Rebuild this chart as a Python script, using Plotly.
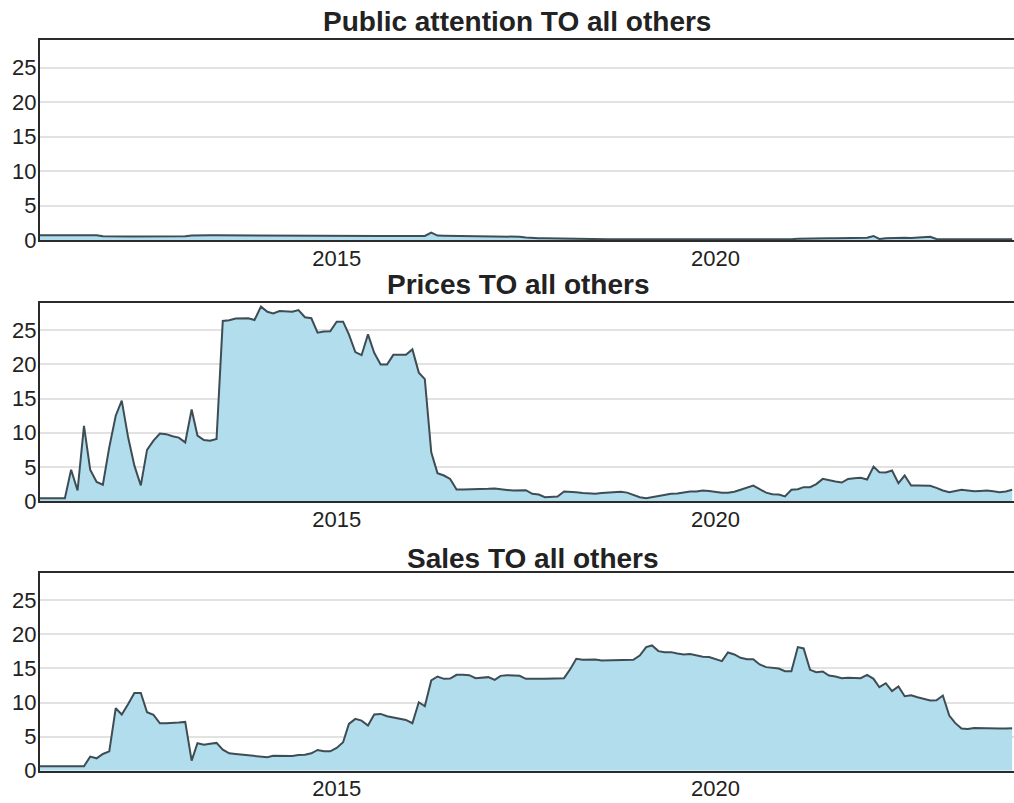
import pandas as pd
import plotly.graph_objects as go
from plotly.subplots import make_subplots

# monthly values, Feb 2011 .. Dec 2023
start_month = "2011-02-01"

public_attention = [
    0.72, 0.72, 0.72, 0.72, 0.72, 0.72, 0.72, 0.72, 0.72, 0.72, 0.58,
    0.55, 0.55, 0.55, 0.55, 0.55, 0.55, 0.55, 0.55, 0.55, 0.55, 0.55, 0.55,
    0.58, 0.68, 0.72, 0.72, 0.72, 0.72, 0.72, 0.72, 0.72, 0.72, 0.72, 0.72,
    0.72, 0.72, 0.70, 0.70, 0.70, 0.70, 0.70, 0.68, 0.68, 0.66, 0.66, 0.66,
    0.64, 0.64, 0.64, 0.64, 0.62, 0.62, 0.62, 0.62, 0.60, 0.60, 0.58, 0.56,
    0.55, 0.52, 0.62, 1.10, 0.68, 0.65, 0.64, 0.62, 0.60, 0.60, 0.58, 0.58,
    0.58, 0.56, 0.56, 0.60, 0.60, 0.50, 0.40, 0.32, 0.30, 0.30, 0.28, 0.22,
    0.15, 0.15, 0.14, 0.14, 0.14, 0.14, 0.13, 0.13, 0.13, 0.13, 0.12, 0.12,
    0.12, 0.12, 0.12, 0.12, 0.12, 0.12, 0.12, 0.10, 0.10, 0.10, 0.10, 0.10,
    0.10, 0.10, 0.08, 0.08, 0.08, 0.08, 0.08, 0.08, 0.08, 0.08, 0.10, 0.12,
    0.15, 0.22, 0.25, 0.28, 0.28, 0.30, 0.30, 0.30, 0.30, 0.30, 0.30, 0.32,
    0.35, 0.62, 0.18, 0.30, 0.35, 0.35, 0.35, 0.32, 0.35, 0.40, 0.50, 0.18,
    0.15, 0.15, 0.14, 0.14, 0.14, 0.14, 0.14, 0.14, 0.14, 0.14, 0.14, 0.14,
]

prices = [
    0.44, 0.44, 0.44, 0.44, 0.44, 4.6, 1.56, 11.0, 4.6, 2.8, 2.4,
    7.9, 12.5, 14.7, 9.3, 5.2, 2.3, 7.5, 8.85, 9.9, 9.8, 9.5, 9.3,
    8.6, 13.4, 9.6, 8.95, 8.85, 9.1, 26.35, 26.45, 26.7, 26.75, 26.75, 26.5,
    28.45, 27.7, 27.45, 27.8, 27.8, 27.7, 27.95, 26.9, 26.75, 24.65, 24.8, 24.85,
    26.25, 26.25, 24.4, 21.8, 21.35, 24.4, 21.7, 20.0, 20.0, 21.4, 21.4, 21.4,
    22.2, 18.8, 17.85, 7.15, 4.1, 3.75, 3.25, 1.7, 1.7, 1.75, 1.8, 1.8,
    1.8, 1.85, 1.8, 1.65, 1.56, 1.6, 1.6, 1.07, 0.97, 0.58, 0.58, 0.68,
    1.41, 1.41, 1.3, 1.2, 1.17, 1.07, 1.2, 1.25, 1.3, 1.36, 1.25, 0.97,
    0.58, 0.44, 0.58, 0.83, 0.97, 1.07, 1.12, 1.32, 1.41, 1.4, 1.56, 1.5,
    1.32, 1.22, 1.22, 1.37, 1.66, 1.95, 2.29, 1.75, 1.25, 1.03, 0.98, 0.69,
    1.66, 1.75, 2.05, 2.05, 2.5, 3.26, 3.02, 2.87, 2.73, 3.26, 3.36, 3.41,
    3.17, 5.06, 4.23, 4.2, 4.48, 2.63, 3.75, 2.29, 2.29, 2.29, 2.24, 1.95,
    1.56, 1.32, 1.5, 1.66, 1.56, 1.46, 1.5, 1.56, 1.46, 1.32, 1.41, 1.66,
]

sales = [
    0.64, 0.64, 0.64, 0.64, 0.64, 0.64, 0.64, 0.64, 2.06, 1.81, 2.45,
    2.84, 9.17, 8.24, 9.8, 11.4, 11.4, 8.58, 8.19, 6.96, 6.96, 6.96, 7.06,
    7.16, 1.47, 4.02, 3.82, 3.95, 4.07, 3.09, 2.55, 2.45, 2.35, 2.25, 2.2,
    2.06, 1.96, 2.2, 2.16, 2.11, 2.16, 2.3, 2.35, 2.55, 3.04, 2.84, 2.84,
    3.33, 4.17, 6.86, 7.6, 7.35, 6.62, 8.24, 8.33, 7.99, 7.84, 7.7, 7.45,
    6.96, 10.05, 9.46, 13.24, 13.82, 13.48, 13.53, 14.07, 14.07, 14.02, 13.58, 13.68,
    13.73, 13.33, 13.92, 14.02, 13.92, 13.92, 13.48, 13.43, 13.48, 13.48, 13.48, 13.5,
    13.58, 14.95, 16.42, 16.27, 16.27, 16.32, 16.18, 16.18, 16.22, 16.27, 16.27, 16.27,
    16.91, 18.14, 18.38, 17.55, 17.4, 17.4, 17.2, 17.05, 17.11, 16.91, 16.72, 16.67,
    16.32, 16.08, 17.35, 17.06, 16.57, 16.37, 16.37, 15.59, 15.2, 15.05, 15.0, 14.61,
    14.61, 18.14, 17.94, 14.8, 14.46, 14.56, 13.97, 13.82, 13.58, 13.63, 13.58, 13.58,
    14.07, 13.48, 12.25, 12.84, 11.67, 12.35, 10.93, 11.08, 10.78, 10.49, 10.29, 10.34,
    11.03, 8.09, 7.01, 6.18, 6.13, 6.27, 6.23, 6.23, 6.23, 6.18, 6.18, 6.23,
]

titles = ["Public attention TO all others", "Prices TO all others", "Sales TO all others"]
series = [public_attention, prices, sales]

dates = pd.date_range(start_month, periods=len(prices), freq="MS")

FILL = "rgb(178,221,237)"
LINE = "#3e4c54"
AXIS = "#2b2b2b"
FONT = "Liberation Sans, Arial, sans-serif"

fig = make_subplots(rows=3, cols=1)

for i, vals in enumerate(series):
    fig.add_trace(go.Scatter(x=dates, y=vals, mode="lines", fill="tozeroy",
                             fillcolor=FILL, line=dict(color=LINE, width=2),
                             showlegend=False, hoverinfo="x+y"),
                  row=i + 1, col=1)

# panel placement (fractions of the page height)
y_domains = [[0.6959, 0.9493], [0.3656, 0.6166], [0.0245, 0.2745]]
title_x = [0.4897, 0.4908, 0.5057]
title_shift = [1, 1, -3]

for i in range(3):
    fig.update_xaxes(row=i + 1, col=1, type="date",
                     range=["2011-02-01", "2023-12-10"],
                     tick0="2015-01-01", dtick="M60", tickformat="%Y",
                     showgrid=False, showline=True, mirror=True,
                     linecolor=AXIS, linewidth=2, ticks="",
                     ticklabelstandoff=-3,
                     tickfont=dict(size=22, color="#222"))
    fig.update_yaxes(row=i + 1, col=1, domain=y_domains[i], range=[0, 29],
                     tickvals=[0, 5, 10, 15, 20, 25], showgrid=True,
                     gridcolor="#e2e2e2", gridwidth=1.5, zeroline=False,
                     showline=True, linecolor=AXIS, linewidth=2, ticks="",
                     ticklabelstandoff=-3,
                     tickfont=dict(size=22, color="#222"))
    fig.add_annotation(text="<b>%s</b>" % titles[i], xref="paper", yref="paper",
                       x=title_x[i], y=y_domains[i][1], xanchor="center",
                       yanchor="bottom", yshift=title_shift[i], showarrow=False,
                       font=dict(size=28, color="#222", family=FONT))

fig.update_layout(width=1014, height=803, margin=dict(l=40, r=0, t=0, b=0),
                  paper_bgcolor="white", plot_bgcolor="white",
                  font=dict(family=FONT, color="#222"))

# make the page exactly the size of the figure (no body margin, no overflow)
page_fit = ("document.documentElement.style.overflow='hidden';"
            "document.body.style.overflow='hidden';"
            "document.body.style.margin='0px';"
            "document.body.style.height='803px';")
fig.write_html("out.html", post_script=page_fit,
               config={"displayModeBar": False})
